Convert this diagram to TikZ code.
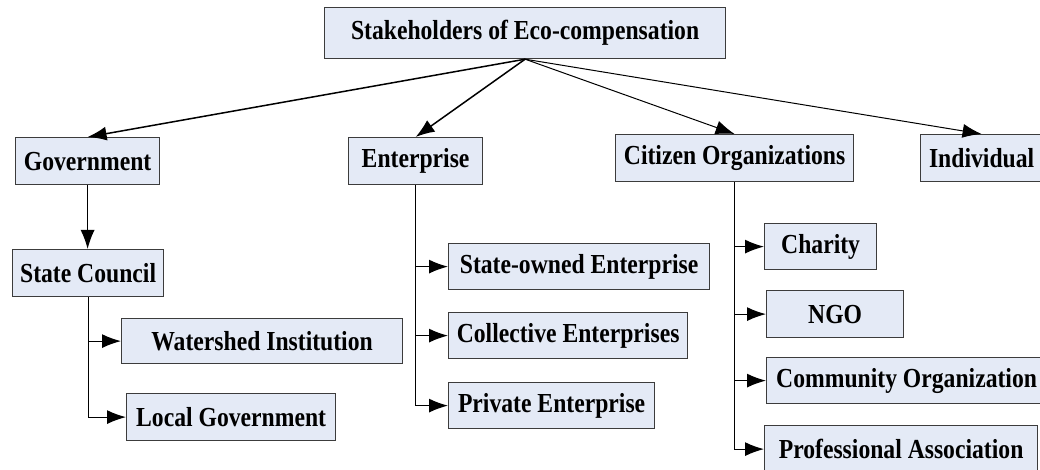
\documentclass[tikz,border=0pt]{standalone}
\usepackage{fontspec}
\setmainfont[FakeStretch=0.86]{Liberation Serif}
\usepackage{xcolor}
\usepackage{tikz}
\usetikzlibrary{arrows.meta}

\definecolor{boxfill}{RGB}{228,234,246}
\definecolor{boxline}{RGB}{60,60,60}

\begin{document}
\begin{tikzpicture}
        [x=1pt,y=-1pt,
          every node/.style={rectangle,draw=boxline,line width=1.2pt,fill=boxfill,
            anchor=north west,inner sep=0pt,minimum height=47pt,
            font=\fontsize{27.5}{32}\selectfont\bfseries},
          link/.style={draw=black,line width=1.2pt,-{Latex[length=19pt,width=14pt]}}]
        \useasboundingbox (0,0) rectangle (1040,470);
        \clip (0,0) rectangle (1040,470);
        % top level
        \node[minimum width=401pt,minimum height=51pt] (n0) at (324,7) {Stakeholders of Eco-compensation};
        \node[minimum width=144pt] (n1) at (15,137) {Government};
        \node[minimum width=134pt] (n2) at (348,137) {Enterprise};
        \node[minimum width=238pt] (n3) at (615,134) {Citizen Organizations};
        \node[minimum width=122pt] (n4) at (920,134) {Individual};
        % government branch
        \node[minimum width=151pt] (n5) at (12,249) {State Council};
        \node[minimum width=281pt,minimum height=45pt] (n6) at (121,318) {Watershed Institution};
        \node[minimum width=209pt] (n7) at (126,393) {Local Government};
        % enterprise branch
        \node[minimum width=261pt,minimum height=46pt] (n8) at (448,243) {State-owned Enterprise};
        \node[minimum width=239pt,minimum height=46pt] (n9) at (448,312) {Collective Enterprises};
        \node[minimum width=206pt,minimum height=46pt] (n10) at (448,382) {Private Enterprise};
        % citizen branch
        \node[minimum width=112pt,minimum height=46pt] (n11) at (764,223) {Charity};
        \node[minimum width=137pt] (n12) at (766,290) {NGO};
        \node[minimum width=280pt,minimum height=46pt] (n13) at (766,357) {Community Organization};
        \node[minimum width=273pt] (n14) at (764,425) {Professional Association};
        \foreach \to/\w in {n1/1.5,n2/1.5,n3/1,n4/1}
        \draw[link,line width=\w pt] (n0.south) -- (\to.north);
        \draw[link] (n1.south) -- (n1.south |- n5.north);
        \foreach \from/\to in {n5/n6,n5/n7,n2/n8,n2/n9,n2/n10,n3/n11,n3/n12,n3/n13,n3/n14}
        \draw[link] (\from.south) |- (\to.west);
      \end{tikzpicture}
\end{document}
